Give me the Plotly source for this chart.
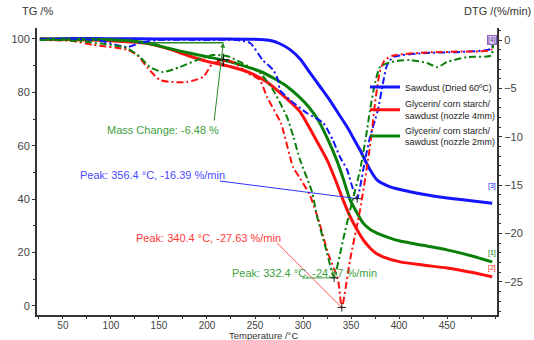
import plotly.graph_objects as go

# ---------------- data ----------------
series_names = ["Sawdust (Dried 60ºC)",
                "Glycerin/ corn starch/<br>sawdust (nozzle 4mm)",
                "Glycerin/ corn starch/<br>sawdust (nozzle 2mm)"]
colors = ["#1414ff", "#ff1010", "#0a800a"]

# TG curves (temperature °C, mass %)
tg_blue_T = [26, 60, 100, 150, 200, 240, 255, 266, 276, 286.5, 297, 307, 318, 328, 337, 346, 353, 359.4, 365, 370, 377, 388, 401, 425, 450, 475, 497]
tg_blue_v = [100, 100.2, 100.1, 100, 100, 99.9, 99.8, 99.4, 98.2, 96.0, 92.5, 87.5, 82.0, 77.0, 72.0, 67.0, 62.5, 58.4, 54.3, 50.9, 47.2, 45.0, 43.6, 41.8, 40.4, 39.4, 38.5]

tg_red_T = [26, 80, 120, 137, 160, 180, 200, 225, 245, 262, 281, 297, 302, 314, 325, 334, 341.7, 349, 356.3, 363, 369.8, 376, 383.3, 401, 425, 450, 475, 497]
tg_red_v = [100, 99.6, 98.9, 98.4, 96.3, 93.8, 91.6, 89.6, 87.3, 84.0, 78.3, 72.7, 69.7, 62.0, 54.7, 47.0, 39.7, 33.5, 28.5, 24.6, 21.7, 19.7, 18.4, 16.5, 15.3, 14.2, 12.6, 10.9]

tg_green_T = [26, 80, 120, 140, 160, 180, 200, 217, 235, 255, 270, 283, 296, 306, 315.6, 325, 335, 342, 349, 356, 362.5, 370, 377, 390, 401, 425, 450, 475, 497]
tg_green_v = [100, 99.9, 99.3, 98.3, 96.5, 94.8, 93.3, 92.1, 90.3, 87.9, 85.2, 82.3, 78.3, 74.5, 69.7, 63.0, 54.7, 47.5, 39.7, 35.0, 31.1, 28.6, 27.3, 25.5, 24.3, 22.7, 21.0, 18.8, 16.5]

# DTG curves (temperature °C, %/min)
dtg_blue_T = [26, 85, 116.7, 130, 148, 200, 231, 245, 258, 269, 274, 276, 286.5, 304, 321, 331, 338.5, 346, 352, 356.4, 359.4, 364.6, 369.8, 375, 378, 383.3, 387.5, 394, 429, 463, 496, 498]
dtg_blue_v = [0.1, 0, -0.72, -0.31, 0, 0, 0, -0.31, -2.07, -3.1, -4.13, -5.17, -6.2, -7.54, -8.57, -10.33, -12.09, -13.43, -15.4, -16.39, -15.19, -12.4, -10.02, -8.26, -7.23, -4.44, -2.6, -1.76, -1.34, -1.24, -0.9, 0]

dtg_red_T = [26, 60, 81, 117, 128, 137.5, 151, 165, 179, 196, 206, 215, 227, 242, 255, 262.5, 277, 289.6, 297, 307, 315.6, 326, 336.5, 340.4, 349, 359.4, 367.7, 371.9, 375, 380, 385, 394, 427, 460, 496, 498]
dtg_red_v = [0, -0.1, -0.5, -1.0, -1.6, -2.8, -4.13, -4.35, -4.34, -3.82, -2.4, -2.2, -2.27, -3.4, -4.13, -5.89, -8.6, -13.1, -14.3, -16.0, -18.4, -22.0, -24.8, -27.63, -22.7, -17.56, -12.4, -9.3, -6.5, -3.3, -2.1, -1.6, -1.3, -1.2, -1.0, 0]

dtg_green_T = [26, 50, 85.4, 116.7, 130.2, 140.6, 154.2, 171.9, 189.6, 206.3, 220.8, 234.4, 255.2, 268.8, 283.3, 290, 297, 309.4, 314.6, 325, 331, 332.4, 341.7, 349, 359.4, 366.7, 369.8, 375, 380.2, 390, 411.5, 429, 440, 450, 471, 496, 498]
dtg_green_v = [0, 0, -0.3, -0.83, -1.76, -2.79, -3.31, -2.79, -2.07, -1.55, -1.65, -2.27, -3.41, -5.17, -7.95, -10.0, -12.4, -15.7, -18.2, -22.0, -24.3, -24.57, -20.66, -17.56, -13.43, -9.3, -7.23, -4.44, -2.79, -2.3, -2.07, -2.38, -2.8, -2.27, -1.76, -1.6, 0]

# peak annotations
peak_T = [356.4, 340.4, 332.4]
peak_v = [-16.39, -27.63, -24.57]
peak_labels = ["Peak: 356.4 °C, -16.39 %/min",
               "Peak: 340.4 °C, -27.63 %/min",
               "Peak: 332.4 °C, -24.57 %/min"]
peak_text_colors = ["#4a4aff", "#ff3a3a", "#40a040"]

mass_change_label = "Mass Change: -6.48 %"
mass_T_start, mass_T_end = 140, 217
mass_top, mass_change = 98.6, -6.48

# ---------------- figure ----------------
fig = go.Figure()
tg_T = [tg_blue_T, tg_red_T, tg_green_T]
tg_v = [tg_blue_v, tg_red_v, tg_green_v]
dtg_T = [dtg_blue_T, dtg_red_T, dtg_green_T]
dtg_v = [dtg_blue_v, dtg_red_v, dtg_green_v]

# DTG dash-dot curves (drawn first)
for i in range(3):
    fig.add_trace(go.Scatter(x=dtg_T[i], y=dtg_v[i], yaxis="y2", mode="lines",
                             line=dict(color=colors[i], width=2, dash="7px,3px,2px,3px", shape="spline", smoothing=0.6),
                             showlegend=False, hoverinfo="skip"))
# TG solid curves
for i in range(3):
    fig.add_trace(go.Scatter(x=tg_T[i], y=tg_v[i], mode="lines", name=series_names[i],
                             line=dict(color=colors[i], width=3, shape="spline", smoothing=0.6)))

# leader lines for peaks
leader_start_T = [213.5, 273, 299]
leader_start_v = [-14.57, -20.97, -24.59]
leader_colors = ["#3030ff", "#ff5050", "#40a040"]
for i in range(3):
    fig.add_trace(go.Scatter(x=[leader_start_T[i], peak_T[i]], y=[leader_start_v[i], peak_v[i]], yaxis="y2",
                             mode="lines", line=dict(color=leader_colors[i], width=1),
                             showlegend=False, hoverinfo="skip"))
    fig.add_trace(go.Scatter(x=[peak_T[i]], y=[peak_v[i]], yaxis="y2", mode="markers",
                             marker=dict(symbol="cross-thin", size=6, line=dict(color="#222", width=1)),
                             showlegend=False, hoverinfo="skip"))

# mass change horizontal line + cross
fig.add_trace(go.Scatter(x=[mass_T_start, mass_T_end], y=[mass_top, mass_top], mode="lines",
                         line=dict(color="#2a8a2a", width=1.5), showlegend=False, hoverinfo="skip"))
fig.add_trace(go.Scatter(x=[mass_T_end], y=[mass_top + mass_change], mode="markers",
                         marker=dict(symbol="cross-thin", size=9, line=dict(color="#111", width=1.5)),
                         showlegend=False, hoverinfo="skip"))

font_family = "Liberation Sans, Arial, sans-serif"
annotations = []
# peak labels
label_pos_T = [65.6, 124, 224]
label_pos_v = [-13.95, -20.45, -24.07]
for i in range(3):
    annotations.append(dict(x=label_pos_T[i], y=label_pos_v[i], xref="x", yref="y2", text=peak_labels[i],
                            showarrow=False, xanchor="left", yanchor="middle",
                            font=dict(size=11, color=peak_text_colors[i], family=font_family)))
# mass change
annotations.append(dict(x=93.75, y=65.9, xref="x", yref="y", text=mass_change_label, showarrow=False,
                        xanchor="left", yanchor="middle", font=dict(size=11, color="#40a040", family=font_family)))
annotations.append(dict(x=mass_T_end, y=mass_top, xref="x", yref="y", ax=207.3, ay=68.9, axref="x", ayref="y",
                        text="", showarrow=True, arrowhead=2, arrowsize=1, arrowwidth=1, arrowcolor="#2a8a2a"))
# axis titles
annotations.append(dict(x=0.0, y=1.06, xref="paper", yref="paper", text="TG /%", showarrow=False,
                        xanchor="center", yanchor="middle", font=dict(size=11, color="#333", family=font_family)))
annotations.append(dict(x=1.0, y=1.06, xref="paper", yref="paper", text="DTG /(%/min)", showarrow=False,
                        xanchor="center", yanchor="middle", font=dict(size=11, color="#333", family=font_family)))
annotations.append(dict(x=0.493, y=-0.072, xref="paper", yref="paper", text="Temperature /°C", showarrow=False,
                        xanchor="center", yanchor="middle", borderpad=0,
                        font=dict(size=9.5, color="#333", family=font_family)))
# curve end labels
end_labels = ["[3]", "[2]", "[1]"]
end_label_v = [-15.1, -23.55, -22.0]
for i in range(3):
    annotations.append(dict(x=497, y=end_label_v[i], xref="x", yref="y2", text=end_labels[i], showarrow=False,
                            xanchor="center", yanchor="middle", font=dict(size=7, color=colors[i], family=font_family)))
annotations.append(dict(x=497, y=0, xref="x", yref="y2", text="[4]", showarrow=False, xanchor="center",
                        yanchor="middle", bgcolor="#d8c8f0", bordercolor="#9060c0", borderwidth=1, borderpad=0,
                        font=dict(size=7, color="#7040a0", family=font_family)))

axis_common = dict(showline=True, linecolor="#333", linewidth=2, ticks="outside", ticklen=3,
                   tickcolor="#333", tickfont=dict(size=11, color="#444", family=font_family),
                   showgrid=False, zeroline=False, automargin=False)

fig.update_layout(
    width=534, height=340,
    margin=dict(l=37, r=37, t=28, b=25),
    paper_bgcolor="white", plot_bgcolor="white",
    xaxis=dict(range=[23, 502], tickvals=[50, 100, 150, 200, 250, 300, 350, 400, 450],
               minor=dict(dtick=25, tick0=0, ticks="outside", ticklen=2, tickcolor="#333"),
               ticklabelstandoff=-2,
               **{**axis_common, "ticklen": 2, "tickfont": dict(size=10, color="#444", family=font_family)}),
    yaxis=dict(range=[-3.4, 104.1], tickvals=[0, 20, 40, 60, 80, 100],
               minor=dict(dtick=10, tick0=0, ticks="outside", ticklen=2, tickcolor="#333"), **axis_common),
    yaxis2=dict(range=[-28.41, 1.24], overlaying="y", side="right", tickvals=[0, -5, -10, -15, -20, -25],
                minor=dict(dtick=1, tick0=0, ticks="outside", ticklen=2, tickcolor="#333"), **axis_common),
    legend=dict(x=0.713, y=0.845, xanchor="left", yanchor="top", bgcolor="rgba(0,0,0,0)",
                font=dict(size=9, color="#222", family=font_family), tracegroupgap=0, itemwidth=30),
    annotations=annotations,
    showlegend=True,
)

fig.write_html("out.html")
